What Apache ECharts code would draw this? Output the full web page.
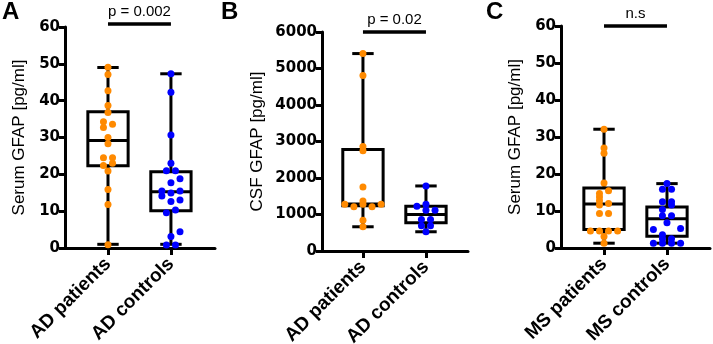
<!DOCTYPE html>
<html>
<head>
<meta charset="utf-8">
<script src="https://cdn.jsdelivr.net/npm/echarts@6/dist/echarts.min.js"></script>
<style>
  html, body { margin: 0; padding: 0; background: #fff; }
  #chart { width: 713px; height: 344px; }
</style>
</head>
<body>
<div id="chart"></div>
<script>
var dom = document.getElementById('chart');
var myChart = echarts.init(dom, null, { renderer: 'canvas' });

// panel letters, axis titles, group names, p-values
var panelLetters = ['A', 'B', 'C'];
var yTitles = ['Serum GFAP [pg/ml]', 'CSF GFAP [pg/ml]', 'Serum GFAP [pg/ml]'];
var groupNames = [
  ['AD patients', 'AD controls'],
  ['AD patients', 'AD controls'],
  ['MS patients', 'MS controls']
];
var pLabels = ['p = 0.002', 'p = 0.02', 'n.s'];
var pLevels = [60.8, 6000, 60];
var yMax = [60, 6000, 60];
var yStep = [10, 1000, 10];

// individual values (jitter = horizontal dot slot)
var adSerumPatients = [49.1, 47.1, 42.7, 38.7, 36.8, 34.3, 33.6, 32.7, 30.0, 28.3, 24.5, 24.5, 22.4, 23.0, 20.9, 15.9, 11.8, 0.9];
var adSerumPatientsJitter = [0, 0, 0, 0, 0, -1, 1, -1, 0, 0, -1, 1, -1, 1, 0, 0, 0, 0];
var adSerumControls = [47.3, 42.3, 30.7, 23.0, 21.0, 21.0, 18.8, 17.7, 15.5, 15.5, 14.9, 14.1, 13.0, 12.6, 10.3, 9.6, 4.4, 3.1, 0.8, 0.8];
var adSerumControlsJitter = [0, 0, 0, 0, -1, 1, 2, 0, -2, 2, 0, -2, 2, 0, 1, -1, 2, 0, -1, 1];

var adCsfPatients = [5409, 4809, 2864, 2745, 1755, 1373, 1282, 1282, 1282, 1209, 1209, 845, 664];
var adCsfPatientsJitter = [0, 0, 0, 0, 0, 0, 0, -4, 4, -2, 2, 0, 0];
var adCsfControls = [1782, 1282, 1227, 1118, 1118, 864, 864, 691, 691, 527];
var adCsfControlsJitter = [0, 0, -2, 0, 2, -1, 1, -1, 1, 0];

var msSerumPatients = [32.1, 27.0, 25.6, 17.6, 15.5, 14.7, 13.8, 12.8, 12.0, 11.6, 9.3, 9.3, 4.6, 4.6, 4.6, 4.6, 3.1, 1.3];
var msSerumPatientsJitter = [0, 0, 0, 0, 1, -1, -1, -1, 1, -1, -1, 1, -3, -1, 1, 3, 0, 0];
var msSerumControls = [17.4, 15.9, 15.9, 12.5, 12.5, 11.6, 10.4, 8.7, 8.7, 6.8, 5.0, 5.3, 3.6, 2.5, 2.5, 1.3, 1.3, 1.3, 1.3];
var msSerumControlsJitter = [0, -1, 1, -1, 1, 1, -1, -1, 1, 0, -3, 3, -1, -1, 1, -3, -1, 1, 3];

// box summaries: [min, q1, median, q3, max]
var adSerumBoxes = [[1.0, 22.3, 29.2, 37.0, 49.0], [1.0, 10.1, 15.3, 20.7, 47.3]];
var adCsfBoxes = [[664, 1240, 1290, 2782, 5409], [527, 773, 1000, 1227, 1782]];
var msSerumBoxes = [[1.3, 5.0, 11.9, 16.2, 32.1], [1.3, 3.2, 7.9, 11.1, 17.4]];

var panels = [
  { boxes: adSerumBoxes, pts: [adSerumPatients, adSerumControls], jit: [adSerumPatientsJitter, adSerumControlsJitter] },
  { boxes: adCsfBoxes, pts: [adCsfPatients, adCsfControls], jit: [adCsfPatientsJitter, adCsfControlsJitter] },
  { boxes: msSerumBoxes, pts: [msSerumPatients, msSerumControls], jit: [msSerumPatientsJitter, msSerumControlsJitter] }
];

var grids = [
  { left: 65, top: 27, width: 150, height: 221, outerBoundsMode: 'none', containLabel: false },
  { left: 322, top: 32, width: 146, height: 219, outerBoundsMode: 'none', containLabel: false },
  { left: 561, top: 26, width: 149, height: 222, outerBoundsMode: 'none', containLabel: false }
];
var xRanges = [[0.317, 2.7], [0.35, 2.667], [0.317, 2.683]];
var nameGaps = [37, 56, 37];
var letterLeft = [2, 221, 486];

var SLOT = 0.072, BOX_HALF = 0.32, CAP_HALF = 0.17;
var FONT = '"Liberation Sans", Arial, Helvetica, sans-serif';
var TICK_FONT = '"DejaVu Sans", "Liberation Sans", sans-serif';
var colors = ['#ff8a00', '#0000ff'];
var LW = 3;

function renderBox(params, api) {
  var x = api.value(0);
  var c = function (dx, v) { return api.coord([x + dx, api.value(v)]); };
  var st = { stroke: '#000', lineWidth: LW, fill: null };
  var lt = c(-BOX_HALF, 4), rb = c(BOX_HALF, 2);
  var line = function (a, b) {
    return { type: 'line', shape: { x1: a[0], y1: a[1], x2: b[0], y2: b[1] }, style: st };
  };
  return {
    type: 'group',
    children: [
      line(c(0, 5), c(0, 4)),
      line(c(0, 2), c(0, 1)),
      line(c(-CAP_HALF, 5), c(CAP_HALF, 5)),
      line(c(-CAP_HALF, 1), c(CAP_HALF, 1)),
      { type: 'rect', shape: { x: lt[0], y: lt[1], width: rb[0] - lt[0], height: rb[1] - lt[1] },
        style: { stroke: '#000', lineWidth: LW, fill: '#fff' } },
      line(c(-BOX_HALF, 3), c(BOX_HALF, 3))
    ]
  };
}

function renderSig(params, api) {
  var a = api.coord([api.value(0), api.value(2)]);
  var b = api.coord([api.value(1), api.value(2)]);
  return {
    type: 'group',
    children: [
      { type: 'line', shape: { x1: a[0], y1: a[1], x2: b[0], y2: b[1] }, style: { stroke: '#000', lineWidth: 3.5 } },
      { type: 'text', style: { text: pLabels[api.value(3)],
        x: (a[0] + b[0]) / 2, y: a[1] - 5, align: 'center', verticalAlign: 'bottom',
        font: '15px ' + FONT, fill: '#000' } }
    ]
  };
}

var option = {
  animation: false,
  backgroundColor: '#fff',
  title: panelLetters.map(function (t, i) {
    return { text: t, left: letterLeft[i], top: 0, padding: 0,
      textStyle: { fontSize: 24, fontWeight: 'bold', fontFamily: FONT, color: '#000' } };
  }),
  grid: grids,
  xAxis: grids.map(function (g, i) {
    return {
      type: 'value', gridIndex: i, min: xRanges[i][0], max: xRanges[i][1],
      axisLine: { lineStyle: { color: '#000', width: 3 } },
      axisTick: { show: true, length: 7, customValues: [1, 2], lineStyle: { color: '#000', width: 3 } },
      axisLabel: {
        customValues: [1, 2], rotate: 45, margin: 13, color: '#000',
        fontSize: 19, fontWeight: 'bold', fontFamily: FONT,
        formatter: function (v) { return groupNames[i][Math.round(v) - 1]; }
      },
      splitLine: { show: false }
    };
  }),
  yAxis: grids.map(function (g, i) {
    return {
      type: 'value', gridIndex: i, min: 0, max: yMax[i], interval: yStep[i],
      name: yTitles[i], nameLocation: 'middle', nameGap: nameGaps[i],
      nameTextStyle: { fontSize: 17, fontFamily: FONT, color: '#000' },
      axisLine: { show: true, lineStyle: { color: '#000', width: 3 } },
      axisTick: { show: true, length: 6, lineStyle: { color: '#000', width: 3 } },
      axisLabel: { margin: 5, color: '#000', fontSize: 15, fontWeight: 'bold', fontFamily: TICK_FONT,
        formatter: function (v) { return String(v); } },
      splitLine: { show: false }
    };
  }),
  series: []
};

panels.forEach(function (p, i) {
  option.series.push({
    type: 'custom', xAxisIndex: i, yAxisIndex: i, clip: false, z: 2,
    renderItem: renderBox,
    encode: { x: 0, y: [1, 2, 3, 4, 5] },
    data: p.boxes.map(function (b, k) { return [k + 1].concat(b); })
  });
  p.pts.forEach(function (vals, k) {
    option.series.push({
      type: 'scatter', xAxisIndex: i, yAxisIndex: i, z: 5,
      symbolSize: 7, itemStyle: { color: colors[k], opacity: 1 },
      data: vals.map(function (v, j) { return [k + 1 + p.jit[k][j] * SLOT, v]; })
    });
  });
  option.series.push({
    type: 'custom', xAxisIndex: i, yAxisIndex: i, clip: false, z: 3,
    renderItem: renderSig,
    encode: { x: [0, 1], y: 2 },
    data: [[1, 2, pLevels[i], i]]
  });
});

if (option && typeof option === 'object') {
  myChart.setOption(option);
}

window.addEventListener('resize', myChart.resize);
</script>
</body>
</html>
